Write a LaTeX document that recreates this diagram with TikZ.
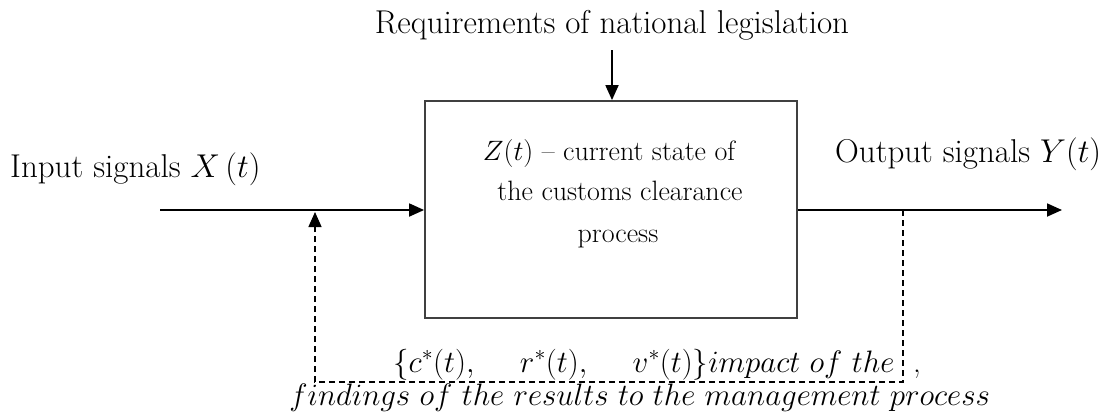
\RequirePackage{fix-cm}
\documentclass[tikz,border=0pt]{standalone}
\usetikzlibrary{arrows.meta,calc}
\begin{document}
\begin{tikzpicture}[x=1pt,y=-1pt,
  lbl/.style={inner sep=0pt,font=\fontsize{33}{36}\selectfont},
  mth/.style={inner sep=0pt,font=\fontsize{31}{36}\selectfont},
  boxtxt/.style={inner sep=0pt,font=\fontsize{28}{41}\selectfont,align=center},
  proc/.style={draw=black!75,line width=1.8pt,minimum width=372pt,minimum height=217pt,inner sep=0pt},
  sig/.style={line width=1.8pt,-{Triangle[length=15pt,width=13pt]}},
  fb/.style={line width=1.4pt,dash pattern=on 6pt off 4pt}
]
\useasboundingbox (0,0) rectangle (1112,416);
\node[proc] (box) at (611,209.5) {};
\node[boxtxt,anchor=base] (t1) at (609,160) {$Z(t)$ -- current state of};
\node[boxtxt,anchor=base] (t2) at (620,200) {the customs clearance};
\node[boxtxt,anchor=base] (t3) at (618,242) {process};
\node[lbl,anchor=base] (req) at (612,33) {Requirements of national legislation};
\node[lbl,anchor=base west] (inl) at (10,177) {Input signals $X\,(t)$};
\node[lbl,anchor=base west] (outl) at (835,162) {Output signals $Y(t)$};
\coordinate (in) at (160,210);
\coordinate (out) at (1062,210);
\coordinate (reqs) at (612,50);
\coordinate (fbtip) at (315,212);
\coordinate (fbl) at (315,382);
\coordinate (fbr) at (903,382);
\coordinate (fbt) at (903,210);
\draw[sig] (in) -- (in -| box.west);
\draw[sig] (out -| box.east) -- (out);
\draw[sig] (reqs) -- (reqs |- box.north);
\draw[fb] (fbt) -- (fbr) -- (fbl) -- ($(fbtip)+(0,14)$);
\draw[line width=1.4pt,-{Triangle[length=15pt,width=13pt]}] (315,232) -- (fbtip);
\node[mth,anchor=base west] (m1) at (393,372) {$\{c^*(t),\quad\ r^*(t),\quad\ v^*(t)\}impact\ of\ the$ \ ,};
\node[mth,anchor=base] (m2) at (640,405) {$findings\ of\ the\ results\ to\ the\ management\ process$};
\end{tikzpicture}
\end{document}
